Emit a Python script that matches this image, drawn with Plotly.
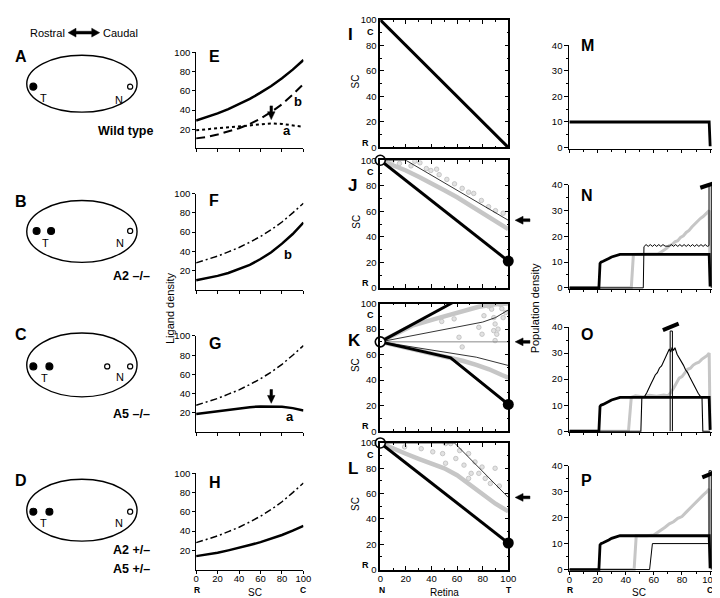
import plotly.graph_objects as go

W, H = 720, 598
FONT = "Liberation Sans, Arial, Helvetica, sans-serif"
GRAY = "#c6c6c6"

# ------------------------- data -------------------------
SC_POS = [0, 10, 20, 30, 40, 50, 60, 70, 80, 90, 100]
E_TOTAL = [29, 32.5, 36.5, 41, 46, 51.5, 58, 65, 73, 82, 92]
E_B = [10.5, 12, 14.5, 17.5, 21, 25.5, 31, 38, 46, 56, 67]
E_A = [19, 20, 21, 22.5, 23.5, 24.5, 25.5, 26, 25.5, 24, 22.5]
WT_REF = [28, 31.5, 35, 39.5, 44, 49.5, 55.5, 62.5, 70.5, 80, 90]
F_B = [10, 12, 14.5, 17.5, 21.5, 26, 32, 39, 48, 58, 70]
G_A = [19, 20.5, 22, 23.5, 25, 26, 26.8, 27, 26.5, 25, 22.5]
H_HALF = [14, 15.5, 17.5, 20, 22.5, 25.5, 28.5, 32, 36, 40.5, 45.5]
LIGAND_TICKS = [20, 40, 60, 80, 100]
SC_TICKS = [0, 20, 40, 60, 80, 100]

RET_POS = [0, 10, 20, 30, 40, 50, 60, 70, 80, 90, 100]
I_X = [0, 100]
I_Y = [100, 0]
J_BLACK_X = [0, 100]
J_BLACK_Y = [100, 21]
J_GRAY_Y = [100, 96, 92, 87, 82, 76.5, 71, 65, 59, 52.5, 46]
J_THIN_X = [0, 20, 100]
J_THIN_Y = [100, 100, 53]
J_DOTS_X = [9, 15, 24, 27, 31, 36, 39.5, 44, 46, 52, 58, 64, 69, 73, 79, 84.6, 90, 96]
J_DOTS_Y = [99, 97.5, 95.6, 99.2, 98, 93.5, 92, 93, 88.7, 85, 81.5, 78, 75, 74, 68.5, 63.6, 60.5, 58.5]

K_UP_X = [0, 57]
K_UP_Y = [70, 101]
K_LO_X = [0, 55, 100]
K_LO_Y = [70, 57.5, 21]
K_GRAY_UP_X = [0, 15, 25, 43, 60, 77, 90, 100]
K_GRAY_UP_Y = [70, 78, 82.7, 88, 93, 97.5, 99.5, 100]
K_GRAY_LO_X = [0, 20, 40, 55, 65, 75, 85, 95, 100]
K_GRAY_LO_Y = [70, 65.5, 61, 57.5, 55, 52, 48.5, 44, 42]
K_THIN_UP_X = [0, 20, 40, 60, 80, 90, 100]
K_THIN_UP_Y = [70, 74, 78, 81.5, 85.5, 89, 95]
K_THIN_LO_X = [0, 25, 50, 75, 100]
K_THIN_LO_Y = [70, 66, 62, 58, 51.5]
K_MID_X = [0, 100]
K_MID_Y = [70, 70]
K_DOTS_X = [48, 57.7, 61.5, 64, 77, 79.5, 81, 84.6, 87, 88.7, 89.7, 88.6, 91, 89.7, 93.6, 96, 98, 86, 92, 95]
K_DOTS_Y = [86, 88, 73.6, 66, 81.4, 76, 90.5, 98, 95.6, 89, 84, 78.8, 76, 71, 99.5, 89, 93, 99, 80, 96]

L_BLACK_X = [0, 100]
L_BLACK_Y = [100, 21]
L_GRAY_Y = [100, 95.5, 91.5, 87.5, 84, 80, 74.5, 67, 59, 52, 46]
L_THIN_X = [0, 58, 100]
L_THIN_Y = [100, 100, 57]
L_DOTS_X = [19, 32, 41, 48.7, 51, 55, 59, 65.4, 69, 74, 71, 77, 79.5, 82, 89.7, 86, 69, 51, 62, 93]
L_DOTS_Y = [96.9, 95.5, 93, 91.6, 99.5, 99.5, 87.7, 82.5, 91.6, 85, 76, 76, 81, 72, 80, 68, 72, 84, 94, 66]

M_BLACK_X = [0, 99.3, 100]
M_BLACK_Y = [10, 10, 0.5]
TERM_X = [0, 21, 21.8, 22.5, 24, 26, 28, 30, 32, 34, 36, 99.3, 100]
TERM_Y = [0, 0, 9.5, 10, 10.3, 11, 11.4, 12, 12.3, 12.8, 13, 13, 0.5]

N_GRAY_X = [0, 44, 45.5, 47, 52, 58, 63, 65, 67, 69, 71, 73, 75, 77, 79, 81, 83, 85, 87, 89, 91, 93, 95, 97, 98.5, 99.3, 100]
N_GRAY_Y = [0, 0, 13, 13, 13, 13, 13.2, 13.8, 14.5, 15.3, 16.4, 16.8, 17.9, 18.3, 19.6, 20.2, 21.5, 22.3, 23.6, 24.8, 25.6, 26.9, 27.7, 28.8, 29.6, 30, 0.5]
N_THIN_X = [0, 52.5, 53, 54.5, 56, 57.5, 59, 60.5, 62, 63.5, 65, 66.5, 68, 69.5, 71, 72.5, 74, 75.5, 77, 78.5, 80,
            81.5, 83, 84.5, 86, 87.5, 89, 90.5, 92, 93.5, 95, 96.5, 98, 99.2, 99.2, 100.8, 100.8]
N_THIN_Y = [0, 0, 16, 16.8, 16.1, 16.8, 16.1, 16.8, 16.1, 16.8, 16.1, 16.8, 16.2, 16.2, 16.2, 16.8, 16.1, 16.8, 16.1, 16.8, 16.1,
            16.8, 16.1, 16.8, 16.1, 16.8, 16.1, 16.8, 16.1, 16.8, 16.1, 16.8, 16.1, 16.4, 40, 40, 0]

O_GRAY_X = [0, 42, 44, 47, 52, 57, 62, 67, 70, 72, 74, 76, 78, 80, 82, 84, 86, 88, 90, 92, 94, 96, 98, 99.3, 100]
O_GRAY_Y = [0, 0, 13, 13.6, 13.2, 13.8, 13.4, 13.9, 13.6, 14.8, 16.5, 18.2, 20.4, 21, 22.6, 23.8, 24.2, 25.4, 26.1, 26.5, 27.6, 28.2, 29.1, 30, 0.5]
O_THIN_X = [0, 50.8, 51.5, 53.5, 55, 56.5, 58, 59.5, 61, 62.5, 64, 65.5, 67, 68, 69, 70, 71, 72, 73, 74, 75, 76.5,
            78, 79.5, 81, 82.5, 84, 85.5, 87, 88.5, 90, 91.5, 93, 94.2, 94.8, 100]
O_THIN_Y = [0, 0, 13, 13.4, 14.8, 16.9, 18.2, 19.9, 21.6, 22.5, 24.3, 25.1, 26.8, 28.4, 29.1, 30.8, 31.6, 30.4, 32.2, 31, 32.1, 29.6,
            28.3, 26.9, 25.4, 23.6, 22.5, 20.8, 19.1, 17.8, 15.9, 14.6, 13.4, 13, 0, 0]
O_SPIKE_X = [71.6, 71.6, 73.2, 73.2]
O_SPIKE_Y = [0, 38.5, 38.5, 0]

P_GRAY_X = [0, 46, 47.5, 50, 55, 60, 62, 65, 68, 71, 74, 77, 80, 83, 86, 89, 92, 95, 98, 99.3, 100]
P_GRAY_Y = [0, 0, 13, 13, 13, 13.3, 14, 15.1, 16.3, 17.6, 18.4, 19.7, 20.4, 22.1, 23.8, 25.6, 26.9, 28.6, 30.1, 31, 0.5]
P_THIN_X = [0, 57, 59, 99.2, 99.2, 100.8, 100.8]
P_THIN_Y = [0, 0, 10, 10, 38, 38, 0]
POP_TICKS = [0, 10, 20, 30, 40]

# ------------------------- geometry -------------------------
# name: (axis index, x pixels for xv, y pixels for yv, xv, yv, x range, y range)
PANELS = {
    "E": (1, (188, 297), (137, 39), (0, 100), (0, 100), [0, 100], [0, 100]),
    "F": (2, (188, 297), (281, 183), (0, 100), (0, 100), [0, 100], [0, 100]),
    "G": (3, (188, 297), (426, 328), (0, 100), (0, 100), [0, 100], [0, 100]),
    "H": (4, (188, 297), (566, 468), (0, 100), (0, 100), [0, 100], [0, 100]),
    "I": (5, (375, 505), (136, 6), (0, 100), (0, 100), [0, 100], [0, 100]),
    "J": (6, (375, 505), (279, 149), (0, 100), (0, 100), [0, 100], [0, 100]),
    "K": (7, (375, 505), (425, 295), (0, 100), (0, 100), [0, 100], [0, 100]),
    "L": (8, (375, 505), (566, 437), (0, 100), (0, 100), [0, 100], [0, 100]),
    "M": (9, (567, 710), (136, 32), (0, 100), (0, 40), [0, 101.5], [-0.4, 40]),
    "N": (10, (567, 710), (279, 174), (0, 100), (0, 40), [0, 101.5], [-0.4, 40]),
    "O": (11, (567, 710), (425, 319), (0, 100), (0, 40), [0, 101.5], [-0.4, 40]),
    "P": (12, (567, 710), (566, 460), (0, 100), (0, 40), [0, 101.5], [-0.4, 40]),
}


def lin(p, v, r):
    s = (p[1] - p[0]) / (v[1] - v[0])
    return p[0] + (r - v[0]) * s


def d2px(name, x, y):
    _, xp, yp, xv, yv, _, _ = PANELS[name]
    return lin(xp, xv, x), lin(yp, yv, y)


def PX(x):
    return x / W


def PY(y):
    return 1 - y / H


def ids(name):
    i = PANELS[name][0]
    s = "" if i == 1 else str(i)
    return "x" + s, "y" + s


fig = go.Figure()
layout = dict(width=W, height=H, margin=dict(l=0, r=0, t=0, b=0),
              paper_bgcolor="white", plot_bgcolor="rgba(0,0,0,0)",
              font=dict(family=FONT, size=9, color="black"), showlegend=False)

TICKFONT = dict(family=FONT, size=9.5, color="black")

for name, (i, xp, yp, xv, yv, xr, yr) in PANELS.items():
    s = "" if i == 1 else str(i)
    xd = [PX(lin(xp, xv, xr[0])), PX(lin(xp, xv, xr[1]))]
    yd = [PY(lin(yp, yv, yr[0])), PY(lin(yp, yv, yr[1]))]
    xa = dict(domain=xd, range=xr, anchor="y" + s, showgrid=False, zeroline=False,
              showline=True, linecolor="black", tickcolor="black", tickfont=TICKFONT, fixedrange=True,
              ticklabelstandoff=-3)
    ya = dict(domain=yd, range=yr, anchor="x" + s, showgrid=False, zeroline=False,
              showline=True, linecolor="black", tickcolor="black", tickfont=TICKFONT, fixedrange=True)
    if name in "EFGH":
        xa.update(linewidth=1, ticks="outside", ticklen=3, tickvals=SC_TICKS,
                  showticklabels=(name == "H"))
        ya.update(linewidth=1, ticks="outside", ticklen=3, tickvals=LIGAND_TICKS)
    elif name in "IJKL":
        xa.update(linewidth=1.5, mirror="allticks", ticks="inside", ticklen=4, tickvals=SC_TICKS,
                  minor=dict(dtick=10, ticklen=2, ticks="inside", tickcolor="black"),
                  showticklabels=(name == "L"), ticklabelstandoff=-1)
        ya.update(linewidth=1.5, mirror="allticks", ticks="inside", ticklen=4, tickvals=SC_TICKS,
                  minor=dict(dtick=10, ticklen=2, ticks="inside", tickcolor="black"))
    else:
        xa.update(linewidth=1, ticks="outside", ticklen=3, tickvals=SC_TICKS,
                  minor=dict(dtick=10, ticklen=2, ticks="outside", tickcolor="black"),
                  showticklabels=(name == "P"))
        ya.update(linewidth=1, ticks="outside", ticklen=4, tickvals=POP_TICKS,
                  minor=dict(dtick=5, ticklen=2, ticks="outside", tickcolor="black"))
    layout["xaxis" + s] = xa
    layout["yaxis" + s] = ya


def line(name, x, y, color="black", width=2.5, dash="solid"):
    xa, ya = ids(name)
    fig.add_trace(go.Scatter(x=x, y=y, mode="lines", xaxis=xa, yaxis=ya, hoverinfo="skip",
                             line=dict(color=color, width=width, dash=dash)))


def dots(name, x, y):
    xa, ya = ids(name)
    fig.add_trace(go.Scatter(x=x, y=y, mode="markers", xaxis=xa, yaxis=ya, hoverinfo="skip",
                             marker=dict(size=4.5, color="#e2e2e2", line=dict(color="#bdbdbd", width=0.8))))


def endpoints(name, x0, y0, x1, y1):
    xa, ya = ids(name)
    fig.add_trace(go.Scatter(x=[x0], y=[y0], mode="markers", xaxis=xa, yaxis=ya, cliponaxis=False,
                             hoverinfo="skip", marker=dict(size=10, color="white", line=dict(color="black", width=1.6))))
    fig.add_trace(go.Scatter(x=[x1], y=[y1], mode="markers", xaxis=xa, yaxis=ya, cliponaxis=False,
                             hoverinfo="skip", marker=dict(size=11, color="black")))


# ---- E-H ligand density ----
line("E", SC_POS, E_TOTAL, width=2.5)
line("E", SC_POS, E_B, width=2, dash="9px,5px")
line("E", SC_POS, E_A, width=2, dash="3px,3px")
line("F", SC_POS, WT_REF, width=1.5, dash="7px,3px,2px,3px")
line("F", SC_POS, F_B, width=2.5)
line("G", SC_POS, WT_REF, width=1.5, dash="7px,3px,2px,3px")
line("G", SC_POS, G_A, width=2.5)
line("H", SC_POS, WT_REF, width=1.5, dash="7px,3px,2px,3px")
line("H", SC_POS, H_HALF, width=2.5)

# ---- I-L maps ----
line("I", I_X, I_Y, width=3)

dots("J", J_DOTS_X, J_DOTS_Y)
line("J", RET_POS, J_GRAY_Y, color=GRAY, width=4.5)
line("J", J_THIN_X, J_THIN_Y, width=0.8)
line("J", J_BLACK_X, J_BLACK_Y, width=3)
endpoints("J", 0, 100, 100, 21)

dots("K", K_DOTS_X, K_DOTS_Y)
line("K", K_GRAY_UP_X, K_GRAY_UP_Y, color=GRAY, width=4.5)
line("K", K_GRAY_LO_X, K_GRAY_LO_Y, color=GRAY, width=4.5)
line("K", K_MID_X, K_MID_Y, color="#8a8a8a", width=1)
line("K", K_THIN_UP_X, K_THIN_UP_Y, width=0.8)
line("K", K_THIN_LO_X, K_THIN_LO_Y, width=0.8)
line("K", K_UP_X, K_UP_Y, width=3)
line("K", K_LO_X, K_LO_Y, width=3)
endpoints("K", 0, 70, 100, 21)

dots("L", L_DOTS_X, L_DOTS_Y)
line("L", RET_POS, L_GRAY_Y, color=GRAY, width=4.5)
line("L", L_THIN_X, L_THIN_Y, width=0.8)
line("L", L_BLACK_X, L_BLACK_Y, width=3)
endpoints("L", 0, 100, 100, 21)

# ---- M-P population density ----
line("M", M_BLACK_X, M_BLACK_Y, width=2.8)
line("N", N_GRAY_X, N_GRAY_Y, color=GRAY, width=3)
line("N", TERM_X, TERM_Y, width=2.8)
line("N", N_THIN_X, N_THIN_Y, width=1)
line("O", O_GRAY_X, O_GRAY_Y, color=GRAY, width=3)
line("O", TERM_X, TERM_Y, width=2.8)
line("O", O_THIN_X, O_THIN_Y, width=1.1)
line("O", O_SPIKE_X, O_SPIKE_Y, width=1)
line("P", P_GRAY_X, P_GRAY_Y, color=GRAY, width=3)
line("P", TERM_X, TERM_Y, width=2.8)
line("P", P_THIN_X, P_THIN_Y, width=1)

# ------------------------- decorations -------------------------
shapes = []
annotations = []


def ann(text, x, y, size=11, bold=False, xanchor="center", angle=0, color="black"):
    annotations.append(dict(text=("<b>%s</b>" % text) if bold else text, x=PX(x), y=PY(y),
                            xref="paper", yref="paper", showarrow=False, xanchor=xanchor,
                            yanchor="middle", textangle=angle,
                            font=dict(family=FONT, size=size, color=color)))


def poly(pts):
    path = "M " + " L ".join("%.5f,%.5f" % (PX(a), PY(b)) for a, b in pts) + " Z"
    shapes.append(dict(type="path", path=path, xref="paper", yref="paper",
                       fillcolor="black", line=dict(color="black", width=0.5)))


def circ(cx, cy, r, filled=True):
    shapes.append(dict(type="circle", xref="paper", yref="paper",
                       x0=PX(cx - r), x1=PX(cx + r), y0=PY(cy + r), y1=PY(cy - r),
                       fillcolor="black" if filled else "white",
                       line=dict(color="black", width=1.2)))


def seg(x0, y0, x1, y1, w):
    shapes.append(dict(type="line", xref="paper", yref="paper", x0=PX(x0), y0=PY(y0),
                       x1=PX(x1), y1=PY(y1), line=dict(color="black", width=w)))


# Rostral <-> Caudal
ann("Rostral", 57, 19, 11, xanchor="right")
ann("Caudal", 91, 19, 11, xanchor="left")
poly([(58, 19), (66, 14.5), (66, 17.6), (82, 17.6), (82, 14.5), (90, 19), (82, 23.5), (82, 20.4), (66, 20.4), (66, 23.5)])

# retina ellipses
ELL = {"A": (42, 100), "B": (190, 253), "C": (325, 390), "D": (474, 537)}
for k, (t, b) in ELL.items():
    shapes.append(dict(type="circle", xref="paper", yref="paper", x0=PX(16), x1=PX(128),
                       y0=PY(b), y1=PY(t), line=dict(color="black", width=1.4)))
    ann(k, 2, t + 1, 16, bold=True, xanchor="left")

circ(22.7, 74, 3.5); circ(121, 74, 2.6, False)
ann("T", 33.5, 85.5, 11); ann("N", 110, 87.5, 11)
ann("Wild type", 116.5, 119, 12.5, bold=True)

circ(26, 221, 3.5); circ(40.7, 221, 3.5); circ(121, 221, 2.6, False)
ann("T", 35.5, 233, 11); ann("N", 111, 233, 11)
ann("A2 –/–", 102, 267, 12.5, bold=True, xanchor="left")

circ(22.7, 359, 3.5); circ(39, 359, 3.5); circ(97.7, 359, 2.6, False); circ(121, 359, 2.6, False)
ann("T", 34.3, 371, 11); ann("N", 111, 369.5, 11)
ann("A5 –/–", 102, 407, 12.5, bold=True, xanchor="left")

circ(22.7, 507, 3.5); circ(39, 507, 3.5); circ(121, 507, 2.6, False)
ann("T", 33.3, 518.5, 11); ann("N", 109.5, 518.5, 11)
ann("A2 +/–", 102, 546.5, 12.5, bold=True, xanchor="left")
ann("A5 +/–", 102, 565, 12.5, bold=True, xanchor="left")

# E-H labels
for k, y in (("E", 43), ("F", 190), ("G", 336), ("H", 477)):
    ann(k, 199, y, 16, bold=True, xanchor="left")
ann("Ligand density", 162, 300, 11, angle=-90)
ann("SC", 248, 589, 10)
ann("R", 189, 587, 8.5, bold=True)
ann("C", 297, 587, 8.5, bold=True)
ann("b", 291, 89, 13, bold=True)
ann("a", 280, 119, 13, bold=True)
ann("b", 281, 245, 13, bold=True)
ann("a", 283, 410, 13, bold=True)


def down_arrow(name, x, ytip):
    cx, cy = d2px(name, x, ytip)
    poly([(cx, cy), (cx - 3.8, cy - 8), (cx - 1.3, cy - 8), (cx - 1.3, cy - 14),
          (cx + 1.3, cy - 14), (cx + 1.3, cy - 8), (cx + 3.8, cy - 8)])


down_arrow("E", 70, 30)
down_arrow("G", 70, 30)

# I-L labels
for k, y in (("I", 21), ("J", 175), ("K", 333), ("L", 463)):
    ann(k, 340, y, 17, bold=True, xanchor="left")
for k in "IJKL":
    _, _, yp, _, _, _, _ = PANELS[k]
    ann("SC", 350, (yp[0] + yp[1]) / 2 - 2, 10, angle=-90)
    ann("C", 365, yp[1] + 12, 9, bold=True)
    ann("R", 360, yp[0] - 5, 9, bold=True)
ann("N", 377, 587, 8.5, bold=True)
ann("T", 506, 587, 8.5, bold=True)
ann("Retina", 440, 589, 10)


def left_arrow(name, yval):
    _, cy = d2px(name, 100, yval)
    x0 = 512
    poly([(x0, cy), (x0 + 8, cy - 4), (x0 + 8, cy - 1.4), (x0 + 15, cy - 1.4),
          (x0 + 15, cy + 1.4), (x0 + 8, cy + 1.4), (x0 + 8, cy + 4)])


left_arrow("J", 53)
left_arrow("K", 70)
left_arrow("L", 57)

# M-P labels
for k, y in (("M", 32), ("N", 185), ("O", 326), ("P", 475)):
    ann(k, 577, y, 16, bold=True, xanchor="left")
ann("Population density", 533, 300, 11, angle=-90)
ann("R", 568, 587, 8.5, bold=True)
ann("C", 710, 587, 8.5, bold=True)
ann("SC", 638, 589, 10)

# break bars on off-scale spikes
seg(700, 177, 718, 171, 4)
seg(662, 322, 678, 315.5, 4)
seg(702, 472, 718, 465.5, 4)

layout["shapes"] = shapes
layout["annotations"] = annotations
fig.update_layout(**layout)
fig.write_html("out.html")
